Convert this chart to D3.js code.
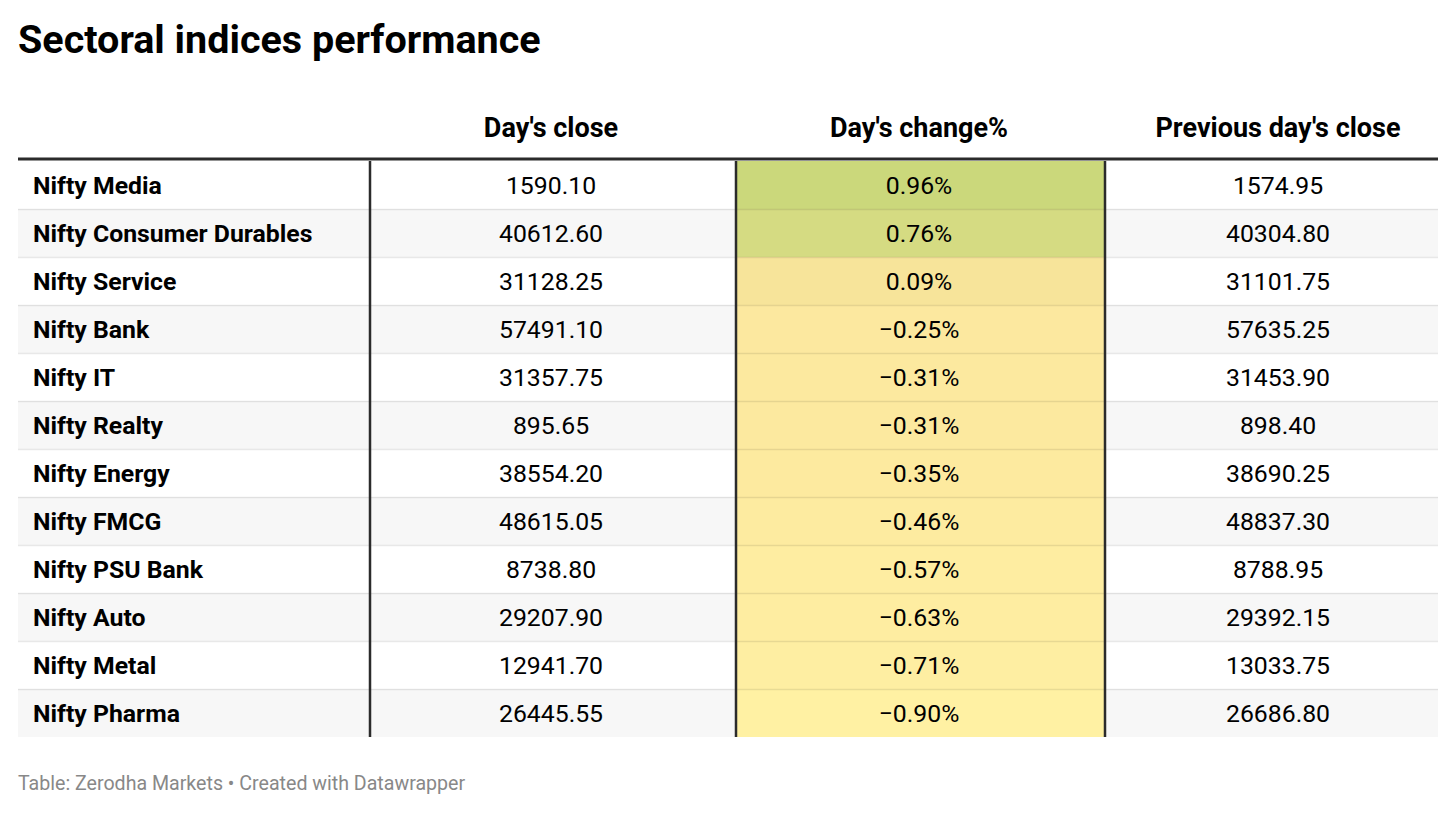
<!DOCTYPE html>
<html>
<head>
<meta charset="utf-8">
<script src="https://cdn.jsdelivr.net/npm/d3@7"></script>
<style>
  html, body { margin: 0; padding: 0; background: #fff; }
  svg { display: block; font-family: Roboto, "Noto Sans", sans-serif; }
</style>
</head>
<body>
<svg id="chart" width="1456" height="813"></svg>
<script>
// ---- data ----
const title = "Sectoral indices performance";
const columns = ["", "Day's close", "Day's change%", "Previous day's close"];
const sectors = [
  "Nifty Media", "Nifty Consumer Durables", "Nifty Service", "Nifty Bank",
  "Nifty IT", "Nifty Realty", "Nifty Energy", "Nifty FMCG",
  "Nifty PSU Bank", "Nifty Auto", "Nifty Metal", "Nifty Pharma"
];
const dayClose = [1590.10, 40612.60, 31128.25, 57491.10, 31357.75, 895.65,
  38554.20, 48615.05, 8738.80, 29207.90, 12941.70, 26445.55];
const dayChange = [0.96, 0.76, 0.09, -0.25, -0.31, -0.31, -0.35, -0.46,
  -0.57, -0.63, -0.71, -0.90];
const prevClose = [1574.95, 40304.80, 31101.75, 57635.25, 31453.90, 898.40,
  38690.25, 48837.30, 8788.95, 29392.15, 13033.75, 26686.80];
const footer = "Table: Zerodha Markets • Created with Datawrapper";

// ---- layout ----
const svg = d3.select("#chart");
const left = 18, right = 1438;
const colEdges = [18, 370, 736, 1105, 1438];
const colCenters = [0, 551, 919, 1278];
const tableTop = 161, rowH = 48;

const y = d3.scaleBand()
  .domain(d3.range(sectors.length))
  .range([tableTop, tableTop + rowH * sectors.length])
  .paddingInner(0).paddingOuter(0);

const color = d3.scaleLinear()
  .domain([-0.9, 0, 0.96])
  .range(["#fff1a3", "#fbe59d", "#cbd87b"])
  .interpolate(d3.interpolateRgb);

const fmt = d3.format(".2f");
const fmtPct = v => (v < 0 ? "\u2212" : "") + d3.format(".2f")(Math.abs(v)) + "%";

// title
svg.append("text")
  .attr("x", left).attr("y", 53)
  .attr("font-size", 39.5).attr("font-weight", 700).attr("fill", "#000")
  .text(title);

// header
svg.selectAll("text.head").data(columns.slice(1)).join("text")
  .attr("class", "head")
  .attr("x", (d, i) => colCenters[i + 1])
  .attr("y", 137)
  .attr("text-anchor", "middle")
  .attr("font-size", 27).attr("font-weight", 700).attr("fill", "#000")
  .text(d => d);

const rows = sectors.map((s, i) => ({ i, s, c: dayClose[i], ch: dayChange[i], p: prevClose[i] }));

// stripes
svg.selectAll("rect.stripe").data(rows).join("rect")
  .attr("class", "stripe")
  .attr("x", left).attr("width", right - left)
  .attr("y", d => y(d.i)).attr("height", y.bandwidth())
  .attr("fill", d => d.i % 2 ? "#f7f7f7" : "#ffffff");

// heat cells
svg.selectAll("rect.heat").data(rows).join("rect")
  .attr("class", "heat")
  .attr("x", colEdges[2]).attr("width", colEdges[3] - colEdges[2])
  .attr("y", d => y(d.i)).attr("height", y.bandwidth())
  .attr("fill", d => color(d.ch));

// row separators
svg.selectAll("line.sep").data(rows.slice(1)).join("line")
  .attr("class", "sep")
  .attr("x1", left).attr("x2", right)
  .attr("y1", d => y(d.i) + 0.5).attr("y2", d => y(d.i) + 0.5)
  .attr("stroke", "rgba(0,0,0,0.09)").attr("stroke-width", 1.5);

// vertical dividers
svg.selectAll("line.vdiv").data(colEdges.slice(1, 4)).join("line")
  .attr("class", "vdiv")
  .attr("x1", d => d).attr("x2", d => d)
  .attr("y1", tableTop).attr("y2", y.range()[1])
  .attr("stroke", "#2b2b2b").attr("stroke-width", 2.5);

// header rule
svg.append("line")
  .attr("x1", left).attr("x2", right)
  .attr("y1", 159).attr("y2", 159)
  .attr("stroke", "#2b2b2b").attr("stroke-width", 3);

// row labels
svg.selectAll("text.label").data(rows).join("text")
  .attr("class", "label")
  .attr("x", 33).attr("y", d => y(d.i) + y.bandwidth() / 2 + 9)
  .attr("font-size", 24.8).attr("font-weight", 700).attr("fill", "#000")
  .text(d => d.s);

const valueCols = [
  { key: "c", col: 1, f: fmt },
  { key: "ch", col: 2, f: fmtPct },
  { key: "p", col: 3, f: fmt }
];
valueCols.forEach(vc => {
  svg.selectAll("text.v" + vc.key).data(rows).join("text")
    .attr("class", "v" + vc.key)
    .attr("x", colCenters[vc.col])
    .attr("y", d => y(d.i) + y.bandwidth() / 2 + 9)
    .attr("text-anchor", "middle")
    .attr("font-size", 24.8).attr("fill", "#000")
    .text(d => vc.f(d[vc.key]));
});

// footer
svg.append("text")
  .attr("x", left).attr("y", 790)
  .attr("font-size", 19.6).attr("fill", "#888")
  .text(footer);
</script>
</body>
</html>
